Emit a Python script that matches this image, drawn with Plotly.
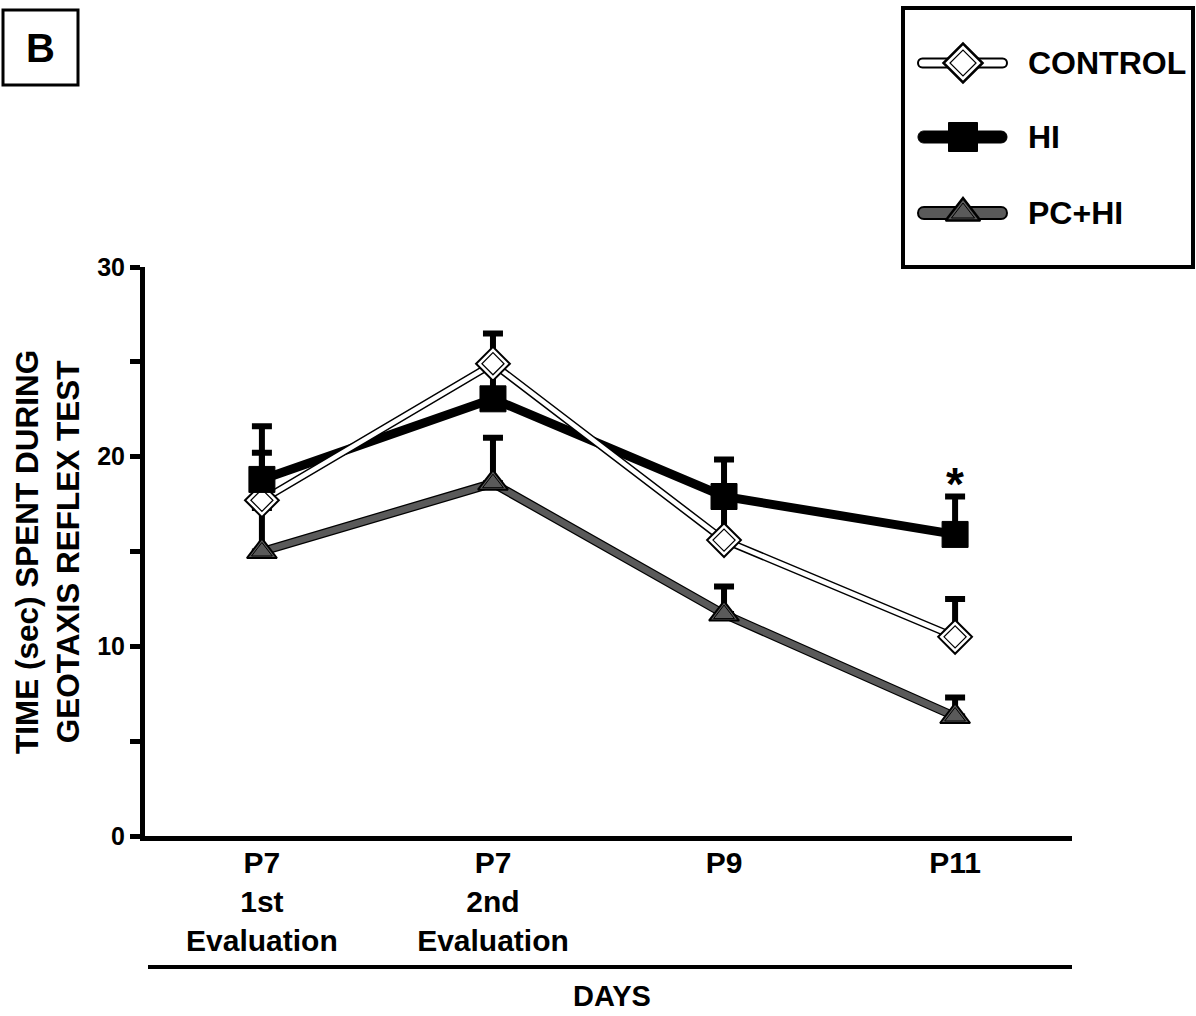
import plotly.graph_objects as go

# ---------------- data ----------------
categories = ["P7<br>1st<br>Evaluation", "P7<br>2nd<br>Evaluation", "P9", "P11"]
cat_pos = [0, 1, 2, 3]
control_mean = [17.7, 24.9, 15.6, 10.5]
control_err = [2.5, 1.6, 2.25, 2.0]
hi_mean = [18.8, 23.05, 17.9, 15.9]
hi_err = [2.8, 1.85, 1.95, 2.0]
pchi_mean = [15.0, 18.6, 11.7, 6.3]
pchi_err = [2.3, 2.4, 1.45, 1.0]
y_ticks = [0, 10, 20, 30]
series_names = ["CONTROL", "HI", "PC+HI"]

FONT = "Arial, Liberation Sans, sans-serif"
W, H = 1196, 1016
GRAY = "#5a5a5a"

fig = go.Figure()


def eb(err):
    return dict(type="data", array=err, arrayminus=[0] * len(err), symmetric=False,
                thickness=6, width=10, color="black")

# PC+HI line (outlined grey)
fig.add_trace(go.Scatter(x=cat_pos, y=pchi_mean, mode="lines",
                         line=dict(color="black", width=9), error_y=eb(pchi_err),
                         showlegend=False, hoverinfo="skip"))
fig.add_trace(go.Scatter(x=cat_pos, y=pchi_mean, mode="lines",
                         line=dict(color=GRAY, width=6.5), showlegend=False, hoverinfo="skip"))
# HI line
fig.add_trace(go.Scatter(x=cat_pos, y=hi_mean, mode="lines",
                         line=dict(color="black", width=9), error_y=eb(hi_err),
                         showlegend=False, hoverinfo="skip"))
# CONTROL line (outlined white)
fig.add_trace(go.Scatter(x=cat_pos, y=control_mean, mode="lines",
                         line=dict(color="black", width=7.5), error_y=eb(control_err),
                         showlegend=False, hoverinfo="skip"))
fig.add_trace(go.Scatter(x=cat_pos, y=control_mean, mode="lines",
                         line=dict(color="white", width=4.5), showlegend=False, hoverinfo="skip"))

# markers
fig.add_trace(go.Scatter(x=cat_pos, y=pchi_mean, mode="markers",
                         marker=dict(symbol="triangle-up", size=26, color=GRAY,
                                     line=dict(color="black", width=2)), showlegend=False))
fig.add_trace(go.Scatter(x=cat_pos, y=pchi_mean, mode="markers",
                         marker=dict(symbol="triangle-up", size=18, color=GRAY,
                                     line=dict(color="black", width=1)), showlegend=False))
fig.add_trace(go.Scatter(x=cat_pos, y=control_mean, mode="markers",
                         marker=dict(symbol="diamond", size=26, color="white",
                                     line=dict(color="black", width=2)), showlegend=False))
fig.add_trace(go.Scatter(x=cat_pos, y=control_mean, mode="markers",
                         marker=dict(symbol="diamond", size=17, color="white",
                                     line=dict(color="black", width=1.2)), showlegend=False))
fig.add_trace(go.Scatter(x=cat_pos, y=hi_mean, mode="markers",
                         marker=dict(symbol="square", size=26, color="black",
                                     line=dict(color="black", width=1)), showlegend=False))

# ---------------- overlay (pixel coordinates) for legend ----------------
leg_y = [63, 137, 213]
leg_x0, leg_x1, leg_xm = 918, 1007, 963
fig.add_trace(go.Scatter(x=[leg_xm], y=[leg_y[0]], mode="markers", xaxis="x2", yaxis="y2",
                         marker=dict(symbol="diamond", size=30, color="white",
                                     line=dict(color="black", width=2.5)), showlegend=False))
fig.add_trace(go.Scatter(x=[leg_xm], y=[leg_y[0]], mode="markers", xaxis="x2", yaxis="y2",
                         marker=dict(symbol="diamond", size=20, color="white",
                                     line=dict(color="black", width=1.2)), showlegend=False))
fig.add_trace(go.Scatter(x=[leg_xm], y=[leg_y[1]], mode="markers", xaxis="x2", yaxis="y2",
                         marker=dict(symbol="square", size=29, color="black",
                                     line=dict(color="black", width=1)), showlegend=False))
fig.add_trace(go.Scatter(x=[leg_xm], y=[leg_y[2]], mode="markers", xaxis="x2", yaxis="y2",
                         marker=dict(symbol="triangle-up", size=30, color=GRAY,
                                     line=dict(color="black", width=2.5)), showlegend=False))
fig.add_trace(go.Scatter(x=[leg_xm], y=[leg_y[2]], mode="markers", xaxis="x2", yaxis="y2",
                         marker=dict(symbol="triangle-up", size=20, color=GRAY,
                                     line=dict(color="black", width=1)), showlegend=False))


def rounded_bar(x0, x1, yc, h):
    r = h / 2.0
    y0, y1 = yc - r, yc + r
    k = 1.333 * r
    return (f"M {x0 + r},{y0} L {x1 - r},{y0} "
            f"C {x1 - r + k},{y0} {x1 - r + k},{y1} {x1 - r},{y1} "
            f"L {x0 + r},{y1} "
            f"C {x0 + r - k},{y1} {x0 + r - k},{y0} {x0 + r},{y0} Z")


shapes = [
    # panel letter box
    dict(type="rect", xref="x2", yref="y2", x0=3, x1=78, y0=10, y1=85,
         line=dict(color="black", width=3)),
    # legend box
    dict(type="rect", xref="x2", yref="y2", x0=903, x1=1193, y0=8, y1=267,
         line=dict(color="black", width=4)),
    # line under tick labels
    dict(type="line", xref="x2", yref="y2", x0=148, x1=1072, y0=967, y1=967,
         line=dict(color="black", width=4)),
    # legend line samples
    dict(type="path", xref="x2", yref="y2", path=rounded_bar(leg_x0, leg_x1, leg_y[0], 9),
         fillcolor="white", line=dict(color="black", width=2), layer="below"),
    dict(type="path", xref="x2", yref="y2", path=rounded_bar(leg_x0, leg_x1, leg_y[1], 12),
         fillcolor="black", line=dict(color="black", width=1), layer="below"),
    dict(type="path", xref="x2", yref="y2", path=rounded_bar(leg_x0, leg_x1, leg_y[2], 12),
         fillcolor=GRAY, line=dict(color="black", width=2), layer="below"),
]

bold = dict(family=FONT, color="black", weight="bold")
annotations = [
    dict(xref="x2", yref="y2", x=40, y=48, text="B", showarrow=False,
         font=dict(size=40, **bold)),
    dict(xref="x2", yref="y2", x=47, y=552, text="TIME (sec) SPENT DURING<br>GEOTAXIS REFLEX TEST",
         textangle=-90, showarrow=False, font=dict(size=31.5, **bold)),
    dict(xref="x2", yref="y2", x=612, y=996, text="DAYS", showarrow=False,
         font=dict(size=29, **bold)),
    dict(xref="x", yref="y", x=cat_pos[3], y=hi_mean[3] + hi_err[3], text="*", showarrow=False,
         yanchor="bottom", yshift=-15, font=dict(size=46, **bold)),
]
for name, yy in zip(series_names, leg_y):
    annotations.append(dict(xref="x2", yref="y2", x=1026, y=yy, text=name, xanchor="left",
                            showarrow=False, font=dict(size=32, **bold)))

fig.update_layout(
    width=W, height=H,
    margin=dict(l=0, r=0, t=0, b=0),
    paper_bgcolor="white", plot_bgcolor="rgba(0,0,0,0)",
    showlegend=False,
    xaxis=dict(domain=[145 / W, 1072 / W], range=[-0.506, 3.506],
               tickvals=cat_pos, ticktext=categories, ticks="",
               showline=True, linewidth=5, linecolor="black",
               showgrid=False, zeroline=False, automargin=False,
               ticklabelstandoff=-4,
               tickfont=dict(size=30, **bold)),
    yaxis=dict(domain=[(H - 836) / H, (H - 267) / H], range=[0, 30],
               tickvals=y_ticks, ticks="outside", ticklen=10, tickwidth=5, tickcolor="black",
               minor=dict(dtick=5, ticks="outside", ticklen=10, tickwidth=5, tickcolor="black"),
               showline=True, linewidth=5, linecolor="black",
               showgrid=False, zeroline=False, automargin=False,
               tickfont=dict(size=25, **bold)),
    xaxis2=dict(domain=[0, 1], range=[0, W], visible=False, anchor="y2", fixedrange=True),
    yaxis2=dict(domain=[0, 1], range=[H, 0], visible=False, anchor="x2", fixedrange=True),
    shapes=shapes,
    annotations=annotations,
)

fig.write_html("out.html", config={"displayModeBar": False},
               post_script="document.body.style.margin='0px';")
